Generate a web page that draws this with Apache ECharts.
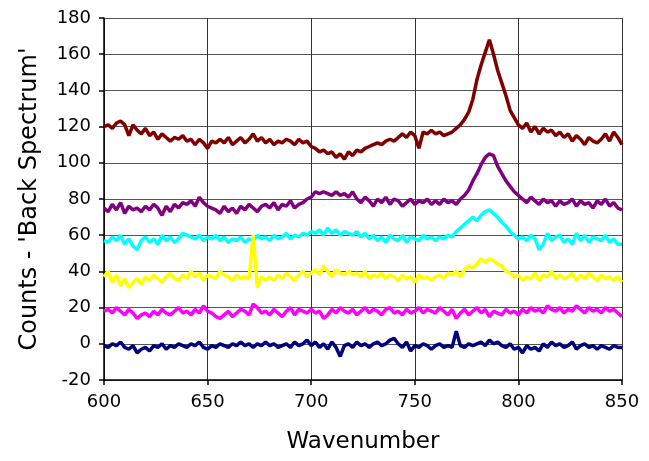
<!DOCTYPE html>
<html>
<head>
<meta charset="utf-8">
<script src="https://cdn.jsdelivr.net/npm/echarts@6/dist/echarts.min.js"></script>
<style>
html,body{margin:0;padding:0;background:#fff;}
#chart{width:649px;height:461px;}
</style>
</head>
<body>
<div id="chart"></div>
<script>
// Sampling grid (wavenumbers): 600 to 850, every 2
const startWavenumber = 600;
const stepWavenumber = 2;

const xTicks = [600, 650, 700, 750, 800, 850];
const yTicks = [-20, 0, 20, 40, 60, 80, 100, 120, 140, 160, 180];

const seriesMaroon = [
  120,121,119,122,123,121,115,121,118,116,
  119,115,117,113,116,114,112,114,113,115,
  112,113,110,113,111,108,112,111,113,111,
  114,110,112,114,111,113,116,112,114,111,
  113,110,112,111,113,112,110,113,111,112,
  109,108,106,107,105,106,103,105,102,106,
  104,107,106,108,109,110,111,110,112,113,
  112,114,116,114,117,115,108,117,116,118,
  116,117,115,116,117,119,121,124,128,135,
  146,154,161,168,160,151,144,137,129,125,
  121,119,122,117,120,116,119,117,118,115,
  117,114,116,112,115,113,110,114,112,111,
  113,116,112,117,114,110
];
const seriesPurple = [
  75,73,77,74,78,72,76,74,75,73,
  76,74,77,75,71,76,73,77,75,78,
  77,79,76,81,78,76,75,74,72,76,
  73,75,72,76,74,77,75,73,76,77,
  75,78,74,77,76,79,75,77,78,80,
  81,84,83,84,83,82,84,82,83,81,
  84,80,78,81,79,76,80,78,81,77,
  80,79,76,78,80,77,79,78,80,77,
  79,77,80,78,79,77,80,82,85,90,
  94,99,103,105,104,98,94,90,87,84,
  82,80,78,81,79,77,80,78,79,76,
  79,77,78,80,76,79,77,78,75,79,
  77,80,76,78,75,74
];
const seriesCyan = [
  57,56,59,57,60,55,58,54,52,57,
  59,56,58,55,60,57,59,56,58,61,
  60,59,58,60,57,59,58,60,57,59,
  56,58,57,59,56,58,57,60,58,59,
  57,60,58,59,61,58,60,59,61,60,
  62,61,63,60,64,61,63,60,62,61,
  60,62,59,61,58,60,57,59,56,60,
  58,57,60,56,59,58,57,60,58,59,
  57,59,58,60,59,62,64,66,68,70,
  68,71,73,74,72,70,67,65,62,60,
  58,59,57,60,58,52,55,61,57,59,
  60,56,58,55,61,57,60,56,59,58,
  57,60,56,58,55,55
];
const seriesYellow = [
  37,40,34,38,32,36,31,34,36,33,
  37,35,38,36,34,37,39,36,35,38,
  36,40,37,39,35,38,37,36,40,38,
  37,35,38,36,37,36,60,31,37,35,
  37,35,38,36,39,37,35,38,40,37,
  39,41,38,43,40,37,41,39,38,40,
  38,39,37,40,36,38,37,39,36,38,
  37,35,38,36,37,34,38,36,37,35,
  37,38,36,39,38,40,37,41,43,42,
  44,47,45,47,46,44,43,40,39,37,
  38,35,37,36,39,35,38,37,40,36,
  38,36,37,39,35,38,36,39,37,35,
  38,36,37,35,37,34
];
const seriesMagenta = [
  18,19,17,20,18,16,19,17,14,16,
  17,15,18,16,19,17,16,18,20,17,
  18,16,19,17,21,18,17,15,14,16,
  18,15,17,19,18,16,22,20,17,18,
  16,19,17,15,18,20,16,19,18,17,
  19,17,18,14,16,19,17,20,18,17,
  19,16,18,20,17,19,18,16,19,20,
  17,18,16,19,17,18,20,17,19,18,
  17,20,18,16,19,14,17,19,16,18,
  20,17,19,15,18,17,16,19,17,18,
  16,19,17,20,18,19,17,21,19,18,
  20,17,19,18,21,19,17,20,18,19,
  17,20,18,19,17,15
];
const seriesNavy = [
  -1,-2,0,-1,1,-2,-3,-1,-5,-3,
  -2,-4,-1,-2,0,-3,-1,-2,0,-1,
  -2,0,-1,1,-2,-3,-1,-2,0,-1,
  -2,0,-1,1,-1,0,-2,0,-1,1,
  -1,0,-2,-1,0,-2,1,-1,0,2,
  -1,1,-2,0,-3,1,-2,-7,-1,0,
  -2,1,-1,0,-2,0,1,-1,0,2,
  3,0,-2,1,-4,-1,-2,0,-1,-3,
  -1,0,-2,-1,-2,7,-1,-2,0,-1,
  0,1,-1,2,0,1,-1,-2,0,-3,
  -2,-5,-1,-3,-2,-4,0,-2,1,-1,
  0,-2,-1,1,-3,-1,0,-2,-1,-3,
  -1,-2,-3,-1,-2,-2
];

const seriesList = [
  {name: 'S1', values: seriesMaroon, color: '#800000'},
  {name: 'S2', values: seriesPurple, color: '#800080'},
  {name: 'S3', values: seriesCyan, color: '#00FFFF'},
  {name: 'S4', values: seriesYellow, color: '#FFFF00'},
  {name: 'S5', values: seriesMagenta, color: '#FF00FF'},
  {name: 'S6', values: seriesNavy, color: '#000080'}
];

function pairs(values){
  return values.map((v, i) => [startWavenumber + stepWavenumber * i, v]);
}

const font = 'DejaVu Sans, Verdana, sans-serif';
const chart = echarts.init(document.getElementById('chart'), null, {renderer: 'canvas'});
chart.setOption({
  animation: false,
  backgroundColor: '#fff',
  grid: {left: 104, right: 27, top: 18, bottom: 81},
  xAxis: {
    type: 'value', min: xTicks[0], max: xTicks[xTicks.length - 1], interval: 50,
    name: 'Wavenumber', nameLocation: 'middle', nameGap: 51,
    nameTextStyle: {fontFamily: font, fontSize: 23, color: '#000'},
    axisLine: {onZero: false, lineStyle: {color: '#000', width: 1.5}},
    axisTick: {show: true, inside: false, length: 5, lineStyle: {color: '#000', width: 1.5}},
    axisLabel: {fontFamily: font, fontSize: 18, color: '#000', margin: 13},
    splitLine: {show: true, lineStyle: {color: '#333', width: 1}}
  },
  yAxis: {
    type: 'value', min: yTicks[0], max: yTicks[yTicks.length - 1], interval: 20,
    name: "Counts - 'Back Spectrum'", nameLocation: 'middle', nameGap: 62,
    nameTextStyle: {fontFamily: font, fontSize: 24, color: '#000'},
    axisLine: {show: true, onZero: false, lineStyle: {color: '#000', width: 1.5}},
    axisTick: {show: true, inside: false, length: 5, lineStyle: {color: '#000', width: 1.5}},
    axisLabel: {fontFamily: font, fontSize: 18, color: '#000', margin: 13},
    splitLine: {show: true, lineStyle: {color: '#555', width: 1}}
  },
  series: seriesList.map(s => ({
    name: s.name, type: 'line', data: pairs(s.values),
    showSymbol: false, symbol: 'none',
    lineStyle: {color: s.color, width: 3.5},
    itemStyle: {color: s.color}
  }))
});
</script>
</body>
</html>
